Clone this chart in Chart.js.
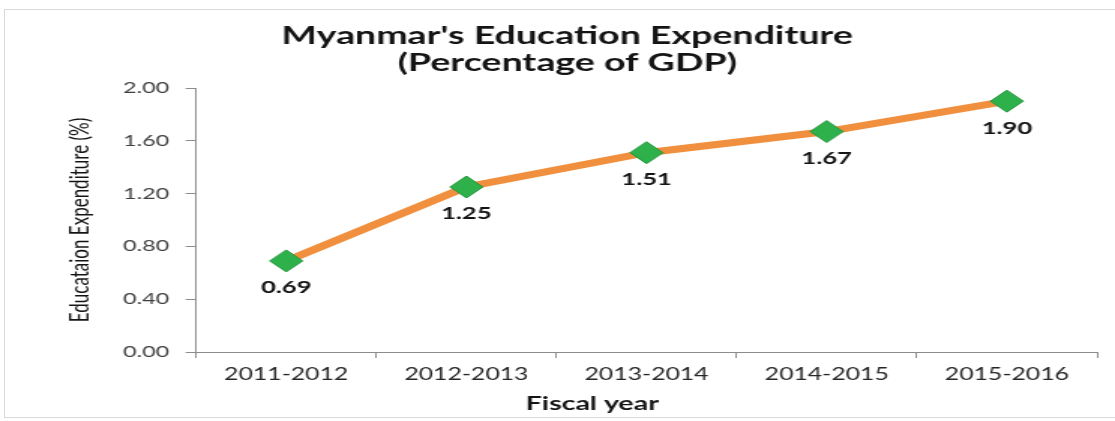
<!DOCTYPE html>
<html>
<head>
<meta charset="utf-8">
<script src="https://cdn.jsdelivr.net/npm/chart.js"></script>
<style>
  html, body { margin: 0; padding: 0; background: #fff; overflow: hidden; }
  #frame { position: absolute; left: 4px; top: 9px; width: 1120px; height: 407px; border: 1px solid #d9d9d9; }
  #chart { position: absolute; left: 0; top: 0; }
</style>
</head>
<body>
<div id="frame"></div>
<canvas id="chart"></canvas>
<script>
// data
const fiscalYears = ['2011-2012', '2012-2013', '2013-2014', '2014-2015', '2015-2016'];
const expenditurePct = [0.69, 1.25, 1.51, 1.67, 1.90];
const titleLines = ["Myanmar's Education Expenditure", '(Percentage of GDP)'];
const yAxisTitle = 'Educataion Expenditure (%)';
const xAxisTitle = 'Fiscal year';

// the source picture is a horizontally stretched Excel chart,
// so draw it narrower and stretch the canvas with CSS
const STRETCH = 1.5;
const FULL_W = 1115, FULL_H = 421;
const W = Math.round(FULL_W / STRETCH);

const canvas = document.getElementById('chart');
canvas.width = W;
canvas.height = FULL_H;
canvas.style.width = FULL_W + 'px';
canvas.style.height = FULL_H + 'px';

const FONT = 'Lato, "Open Sans", sans-serif';
const axisGray = '#8c8c8c';

// target spots in the full-size picture
const plotLeft = 196 / STRETCH;
const padRight = W - 1097 / STRETCH;
const padLeft = 2 * (567 / STRETCH) - W + padRight; // centres the title like the source

// value labels under each marker, and the x axis title (sits left of centre in the source)
const extraText = {
    id: 'extraText',
    afterDatasetsDraw(chart) {
        const ctx = chart.ctx;
        const meta = chart.getDatasetMeta(0);
        ctx.save();
        ctx.font = 'bold 17px ' + FONT;
        ctx.fillStyle = '#141414';
        ctx.textAlign = 'center';
        ctx.textBaseline = 'middle';
        meta.data.forEach((pt, i) => {
            ctx.fillText(expenditurePct[i].toFixed(2), pt.x, pt.y + 27);
        });
        ctx.font = 'bold 19px ' + FONT;
        ctx.fillText(xAxisTitle, 592 / STRETCH, 404);
        ctx.restore();
    }
};

new Chart(canvas, {
    type: 'line',
    data: {
        labels: fiscalYears,
        datasets: [{
            data: expenditurePct,
            borderColor: '#f0903e',
            borderWidth: 7,
            tension: 0,
            pointStyle: 'rectRot',
            pointRadius: 11,
            pointHoverRadius: 11,
            pointBackgroundColor: '#2eb04b',
            pointBorderColor: '#23963c',
            pointBorderWidth: 1
        }]
    },
    options: {
        responsive: false,
        devicePixelRatio: 1,
        animation: false,
        layout: { padding: { left: padLeft, right: padRight, top: 0, bottom: 0 } },
        plugins: {
            legend: { display: false },
            tooltip: { enabled: false },
            title: {
                display: true,
                text: titleLines,
                color: '#141414',
                font: { family: FONT, size: 25, weight: 'bold', lineHeight: 1.08 },
                padding: { top: 22, bottom: 12 }
            }
        },
        scales: {
            x: {
                offset: true,
                afterFit: (s) => { s.height = FULL_H - 352; },
                grid: { offset: true, drawOnChartArea: false, tickLength: 6, color: axisGray },
                border: { color: axisGray, width: 1 },
                ticks: { color: '#262626', padding: 7, font: { family: FONT, size: 16.5 } }
            },
            y: {
                min: 0,
                max: 2,
                afterFit: (s) => { s.width = plotLeft - padLeft; },
                grid: { drawOnChartArea: false, tickLength: 7, color: axisGray },
                border: { color: axisGray, width: 1 },
                ticks: {
                    stepSize: 0.4,
                    padding: 11,
                    color: '#404040',
                    font: { family: FONT, size: 15.5 },
                    callback: (v) => Number(v).toFixed(2)
                },
                title: {
                    display: true,
                    text: yAxisTitle,
                    color: '#141414',
                    font: { family: FONT, size: 17 },
                    padding: { top: 53.3 - padLeft - 10.2, bottom: 0 }
                }
            }
        }
    },
    plugins: [extraText]
});
</script>
</body>
</html>
